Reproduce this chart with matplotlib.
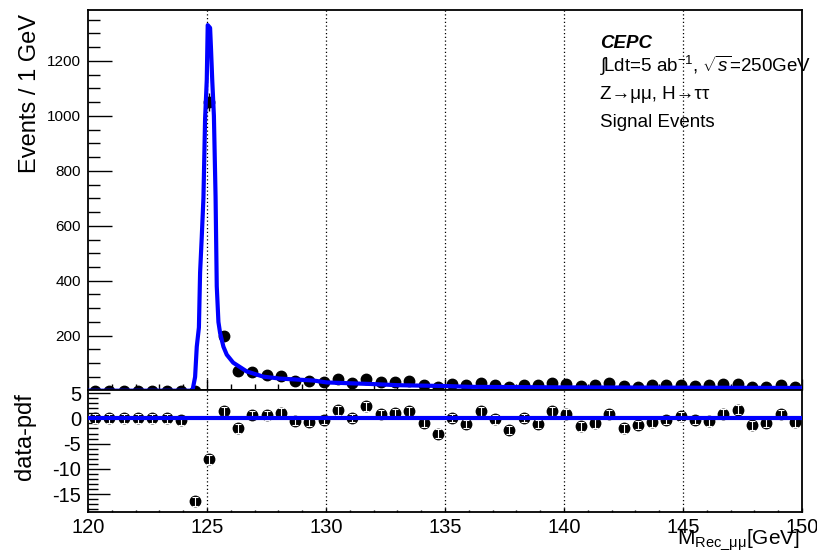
import numpy as np
import matplotlib
matplotlib.use("Agg")
import matplotlib.pyplot as plt
from matplotlib.ticker import MultipleLocator

plt.rcParams['font.family'] = ['Liberation Sans', 'DejaVu Sans']
plt.rcParams['mathtext.fontset'] = 'custom'
plt.rcParams['mathtext.rm'] = 'Liberation Sans'
plt.rcParams['mathtext.it'] = 'Liberation Sans:italic'
plt.rcParams['mathtext.bf'] = 'Liberation Sans:bold'
plt.rcParams['axes.unicode_minus'] = False

# Binning: 50 bins of 0.6 GeV between 120 and 150 GeV
bin_lo, bin_hi, n_bins = 120.0, 150.0, 50

# Observed events per bin
events = [0, 0, 0, 0, 0, 0, 0, 0, 1050, 200,
          71, 69, 58, 53, 34, 34, 31, 44, 28, 44,
          30, 31, 34, 21, 15, 26, 22, 27, 22, 15,
          22, 20, 27, 25, 16, 20, 27, 16, 15, 21,
          21, 22, 18, 19, 25, 25, 15, 15, 21, 15]

# Residuals (data - pdf) per bin
residuals = [0.0, 0.0, 0.0, 0.0, 0.0, 0.0, -0.4, -16.4, -8.1, 1.4,
             -2.0, 0.7, 0.6, 1.1, -0.5, -0.7, -0.3, 1.6, 0.1, 2.4,
             0.8, 1.0, 1.4, -0.9, -3.0, 0.1, -1.1, 1.4, -0.2, -2.3,
             0.1, -1.1, 1.4, 0.9, -1.6, -1.0, 0.8, -2.0, -1.3, -0.8,
             -0.3, 0.4, -0.3, -0.6, 0.9, 1.7, -1.4, -0.9, 0.8, -0.8]

# Fitted pdf curve (mass in GeV, events)
pdf_mass = [120.0, 124.30, 124.40, 124.50, 124.57, 124.66, 124.71, 124.78,
            124.85, 124.92, 124.99, 125.03, 125.13, 125.17, 125.22, 125.29,
            125.36, 125.41, 125.48, 125.55, 125.69, 125.83, 126.10, 126.67,
            127.37, 128.07, 129.47, 130.03, 131.0, 132.0, 133.0, 135.0,
            136.0, 140.0, 145.0, 150.0]
pdf_events = [0, 0, 5, 50, 160, 230, 430, 560,
              700, 990, 1130, 1330, 1320, 1240, 1130, 1000,
              705, 380, 250, 210, 160, 131, 102, 70,
              51, 44, 37, 30, 27, 24, 20, 17,
              14, 12, 11, 10]

x_ticks = [120, 125, 130, 135, 140, 145, 150]
grid_x = [125, 130, 135, 140, 145]

edges = np.linspace(bin_lo, bin_hi, n_bins + 1)
centers = 0.5 * (edges[:-1] + edges[1:])
events = np.array(events, dtype=float)
residuals = np.array(residuals)

W, H = 817, 550
fig = plt.figure(figsize=(W / 100, H / 100), dpi=100)
ax1 = fig.add_axes([88 / W, 1 - 390 / H, 714 / W, 380 / H])
ax2 = fig.add_axes([88 / W, 1 - 512 / H, 714 / W, 122 / H])

blue = (0, 0, 1)

# --- upper panel: events and fitted pdf
for gx in grid_x:
    ax1.axvline(gx, color='black', lw=0.9, ls=(0, (1, 2)), zorder=1)
err = np.sqrt(events)
ax1.errorbar(centers, events, yerr=err, fmt='o', color='black', ms=7.5,
             elinewidth=1.0, capsize=0, zorder=3)
ax1.plot(pdf_mass, pdf_events, color=blue, lw=3.0, zorder=4)
ax1.set_xlim(bin_lo, bin_hi)
ax1.set_ylim(2.5, 1385)
ax1.yaxis.set_major_locator(MultipleLocator(200))
ax1.yaxis.set_minor_locator(MultipleLocator(50))
ax1.xaxis.set_major_locator(MultipleLocator(5))
ax1.xaxis.set_minor_locator(MultipleLocator(1))
ax1.tick_params(axis='y', which='major', direction='in', length=17, width=1.0,
                labelsize=11, pad=5, right=False)
ax1.tick_params(axis='y', which='minor', direction='in', length=8.5, width=1.0,
                right=False)
ax1.tick_params(axis='x', which='major', direction='in', length=8, width=1.0,
                labelbottom=False, top=False)
ax1.tick_params(axis='x', which='minor', direction='in', length=4, width=1.0,
                top=False)
ax1.set_yticks([200, 400, 600, 800, 1000, 1200])
for s in ax1.spines.values():
    s.set_linewidth(1.3)

# --- lower panel: residuals
for gx in grid_x:
    ax2.axvline(gx, color='black', lw=0.9, ls=(0, (1, 2)), zorder=1)
ax2.plot(centers, residuals, 'o', color='black', ms=7.5, zorder=3)
ax2.errorbar(centers, residuals, yerr=0.85, fmt='none', ecolor='white',
             elinewidth=0.8, capsize=2, capthick=0.8, zorder=3.5)
ax2.axhline(0, color=blue, lw=3.0, zorder=4)
ax2.set_xlim(bin_lo, bin_hi)
ax2.set_ylim(-18.5, 5.6)
ax2.set_xticks(x_ticks)
ax2.xaxis.set_minor_locator(MultipleLocator(1))
ax2.set_yticks([-15, -10, -5, 0, 5])
ax2.yaxis.set_minor_locator(MultipleLocator(1))
ax2.tick_params(axis='y', which='major', direction='in', length=16, width=1.0,
                labelsize=14.5, pad=5)
ax2.tick_params(axis='y', which='minor', direction='in', length=7, width=1.0)
ax2.tick_params(axis='x', which='major', direction='in', length=3, width=1.0,
                labelsize=14.5, pad=4)
ax2.tick_params(axis='x', which='minor', direction='in', length=1.5, width=1.0)
for s in ax2.spines.values():
    s.set_linewidth(1.3)

# --- axis titles
fig.text(30 / W, 1 - 14 / H, 'Events / 1 GeV', rotation=90, ha='center',
         va='top', fontsize=17)
fig.text(25 / W, 1 - 393 / H, 'data-pdf', rotation=90, ha='center',
         va='top', fontsize=17)
fig.text(800 / W, 1 - 544 / H, r'$\mathrm{M_{Rec\_\mu\mu}[GeV]}$',
         ha='right', va='baseline', fontsize=15)

# --- labels
fig.text(600 / W, 1 - 48 / H, 'CEPC', fontsize=13.5, fontweight='bold',
         fontstyle='italic', ha='left', va='baseline')
fig.text(600 / W, 1 - 72 / H,
         r'$\int\!\mathrm{Ldt}$=5 ab$^{-1}$, $\sqrt{s}$=250GeV',
         fontsize=13.5, ha='left', va='baseline')
fig.text(600 / W, 1 - 99 / H, 'Z\u2192\u03bc\u03bc, H\u2192\u03c4\u03c4',
         fontsize=13.5, ha='left', va='baseline')
fig.text(600 / W, 1 - 127 / H, 'Signal Events', fontsize=13.5, ha='left',
         va='baseline')

fig.savefig('out.png', dpi=100)
